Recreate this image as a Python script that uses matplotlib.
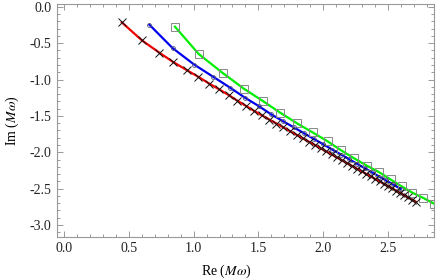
import numpy as np
import matplotlib.pyplot as plt
from matplotlib.ticker import MultipleLocator, FormatStrFormatter

plt.rcParams['font.family'] = ['Liberation Serif', 'DejaVu Serif']
plt.rcParams['mathtext.fontset'] = 'stix'

# red branch (x markers)
red_re = [0.445, 0.600, 0.735, 0.843, 0.947, 1.036, 1.120, 1.198, 1.270, 1.337,
          1.404, 1.466, 1.528, 1.585, 1.640, 1.693, 1.745, 1.795, 1.843, 1.890,
          1.936, 1.980, 2.023, 2.065, 2.106, 2.146, 2.185, 2.223, 2.260, 2.297,
          2.333, 2.368, 2.402, 2.436, 2.469, 2.501, 2.533, 2.564, 2.595, 2.625,
          2.655, 2.685, 2.716]
red_im = [-0.213, -0.460, -0.630, -0.760, -0.870, -0.962, -1.055, -1.136, -1.212, -1.290,
          -1.362, -1.430, -1.493, -1.550, -1.605, -1.658, -1.710, -1.760, -1.808, -1.855,
          -1.901, -1.945, -1.988, -2.030, -2.071, -2.111, -2.150, -2.188, -2.225, -2.262,
          -2.298, -2.333, -2.367, -2.401, -2.434, -2.466, -2.498, -2.529, -2.560, -2.590,
          -2.620, -2.650, -2.681]

# blue branch (circles)
blue_re = [0.658, 0.838, 1.005, 1.152, 1.280, 1.397, 1.502, 1.600, 1.690, 1.775,
           1.855, 1.931, 2.003, 2.072, 2.138, 2.201, 2.262, 2.321, 2.378, 2.433,
           2.486, 2.537, 2.600]
blue_im = [-0.245, -0.568, -0.795, -0.963, -1.110, -1.250, -1.364, -1.480, -1.572, -1.659,
           -1.741, -1.819, -1.893, -1.964, -2.031, -2.096, -2.159, -2.219, -2.277, -2.334,
           -2.388, -2.440, -2.505]

# green branch (squares)
green_re = [0.856, 1.040, 1.224, 1.389, 1.535, 1.667, 1.800, 1.919, 2.035, 2.135,
            2.238, 2.336, 2.431, 2.521, 2.606, 2.688, 2.773, 2.855, 2.930]
green_im = [-0.273, -0.650, -0.909, -1.127, -1.296, -1.454, -1.604, -1.727, -1.850, -1.969,
            -2.082, -2.183, -2.273, -2.374, -2.469, -2.555, -2.628, -2.705, -2.780]

fig = plt.figure(figsize=(4.36, 2.80), dpi=100)
ax = fig.add_axes([0.131, 0.155, 0.864, 0.831])

ax.plot(green_re, green_im, color='#00ee00', lw=1.6, zorder=2)
ax.plot(blue_re, blue_im, color='#0000ee', lw=1.6, zorder=2)
ax.plot(red_re, red_im, color='#ee0000', lw=1.6, zorder=2)

ax.plot(green_re, green_im, ls='none', marker='s', ms=5.2, mfc='none',
        mec='#888888', mew=0.7, zorder=3)
ax.plot(blue_re, blue_im, ls='none', marker='o', ms=2.8, mfc='none',
        mec='#555577', mew=0.6, zorder=3)
ax.plot(red_re, red_im, ls='none', marker='x', ms=5.2,
        mec='#111111', mew=0.7, zorder=3)

ax.set_xlim(-0.054, 2.855)
ax.set_ylim(-3.16, 0.04)

ax.xaxis.set_major_locator(MultipleLocator(0.5))
ax.xaxis.set_minor_locator(MultipleLocator(0.1))
ax.yaxis.set_major_locator(MultipleLocator(0.5))
ax.yaxis.set_minor_locator(MultipleLocator(0.1))
ax.xaxis.set_major_formatter(FormatStrFormatter('%.1f'))
ax.yaxis.set_major_formatter(FormatStrFormatter('%.1f'))

for s in ax.spines.values():
    s.set_color('#999999')
    s.set_linewidth(0.8)
ax.tick_params(which='both', direction='in', top=True, right=True,
               color='#999999', width=0.7, labelsize=10, labelcolor='#222222')
ax.tick_params(which='major', length=4, pad=4)
ax.tick_params(which='minor', length=2)

ax.set_xlabel(r'Re ($M\omega$)', fontsize=10, labelpad=5)
ax.xaxis.set_label_coords(0.45, -0.11)
ax.set_ylabel(r'Im ($M\omega$)', fontsize=10, labelpad=6)

fig.savefig('out.png', dpi=100)
